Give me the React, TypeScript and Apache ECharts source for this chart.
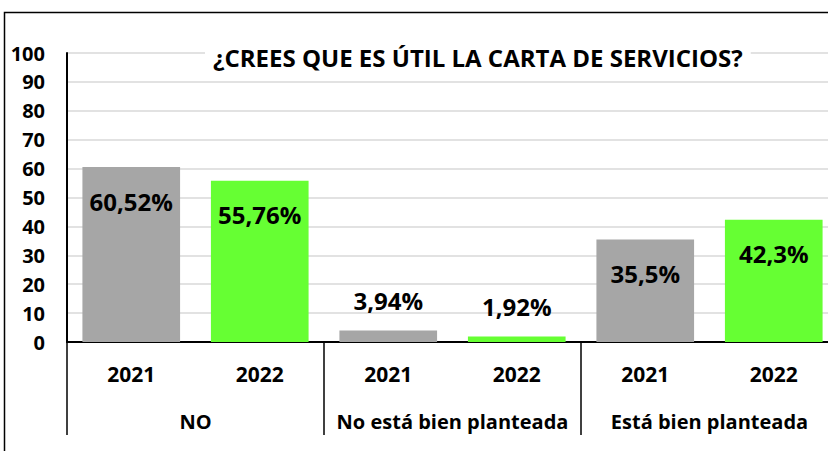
import React, { useEffect, useRef } from "react";
import * as echarts from "echarts";

const titleText = "¿CREES QUE ES ÚTIL LA CARTA DE SERVICIOS?";
const groups = ["NO", "No está bien planteada", "Está bien planteada"];
const years = ["2021", "2022"];
const values2021 = [60.52, 3.94, 35.5];
const values2022 = [55.76, 1.92, 42.3];
const yMin = 0;
const yMax = 100;
const yInterval = 10;

const yearColors = ["#A6A6A6", "#66FF33"];
const FONT = "'Open Sans', 'Noto Sans', sans-serif";

export default function App() {
  const ref = useRef<HTMLDivElement>(null);
  useEffect(() => {
    if (!ref.current) return;
    const chart = echarts.init(ref.current, undefined, { renderer: "svg" });
    const seriesByYear = [values2021, values2022];
    const cats: string[] = [];
    const data: any[] = [];
    groups.forEach((g, gi) => {
      years.forEach((y, yi) => {
        cats.push(y);
        const v = seriesByYear[yi][gi];
        const tall = v > 20;
        data.push({
          value: v,
          itemStyle: { color: yearColors[yi] },
          label: tall
            ? { position: "insideTop", distance: 22 }
            : { position: "top", distance: 18 },
        });
      });
    });
    const fmt = (v: number) => String(v).replace(".", ",") + "%";
    chart.setOption({
      animation: false,
      title: {
        text: titleText,
        left: 205,
        top: 41,
        padding: [4, 8, 4, 8],
        backgroundColor: "#fff",
        textStyle: { fontFamily: FONT, fontWeight: "bold", fontSize: 24, color: "#000" },
      },
      graphic: [
        {
          type: "rect",
          shape: { x: 4.5, y: 12.5, width: 900, height: 500 },
          style: { fill: "none", stroke: "#000", lineWidth: 1.5 },
          z: 100,
        },
      ],
      grid: { left: 67, top: 53, height: 289, width: 771, containLabel: false },
      xAxis: [
        {
          type: "category",
          data: cats,
          position: "bottom",
          axisLine: { show: true, lineStyle: { color: "#000", width: 2 } },
          axisTick: { show: false },
          axisLabel: {
            interval: 0,
            margin: 21,
            color: "#000",
            fontFamily: FONT,
            fontWeight: "bold",
            fontSize: 21,
          },
          splitLine: { show: false },
        },
        {
          type: "category",
          data: groups,
          position: "bottom",
          axisLine: { show: false },
          axisTick: { show: true, interval: 0, length: 93, lineStyle: { color: "#000", width: 1.5 } },
          axisLabel: {
            interval: 0,
            margin: 69,
            color: "#000",
            fontFamily: FONT,
            fontWeight: "bold",
            fontSize: 20,
          },
          splitLine: { show: false },
        },
      ],
      yAxis: {
        type: "value",
        min: yMin,
        max: yMax,
        interval: yInterval,
        axisLine: { show: true, lineStyle: { color: "#000", width: 2 } },
        axisTick: { show: false },
        axisLabel: {
          margin: 22,
          color: "#000",
          fontFamily: FONT,
          fontWeight: "bold",
          fontSize: 20,
        },
        splitLine: { show: true, lineStyle: { color: "#D9D9D9", width: 1.5 } },
      },
      series: [
        {
          type: "bar",
          xAxisIndex: 0,
          barWidth: "76%",
          data,
          label: {
            show: true,
            formatter: (p: any) => fmt(p.value),
            color: "#000",
            fontFamily: FONT,
            fontWeight: "bold",
            fontSize: 24,
          },
        },
      ],
    });
    return () => chart.dispose();
  }, []);
  return (
    <div
      style={{
        position: "fixed",
        left: 0,
        top: 0,
        width: 828,
        height: 451,
        overflow: "hidden",
        background: "#fff",
      }}
    >
      <div ref={ref} style={{ width: 850, height: 451 }} />
    </div>
  );
}
